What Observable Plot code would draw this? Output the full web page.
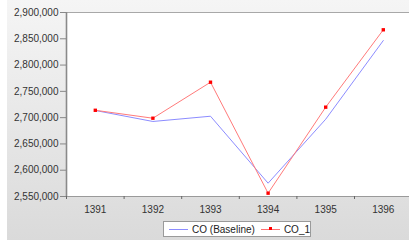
<!DOCTYPE html>
<html><head><meta charset="utf-8">
<script src="https://cdn.jsdelivr.net/npm/d3@7"></script>
<script src="https://cdn.jsdelivr.net/npm/@observablehq/plot@0.6"></script>
<style>
body{margin:0;background:#fff;font-family:"Liberation Sans",Arial,sans-serif;}
#wrap{position:relative;width:409px;height:241px;overflow:hidden;}
#bg{position:absolute;left:7px;top:0;width:402px;height:240px;background:linear-gradient(#f5f5f5,#dadada);}
#chart{position:relative;}
#legend{position:absolute;left:163px;top:221px;width:146px;height:14px;background:#fff;border:1px solid #9a9a9a;font-size:10px;color:#222;display:flex;align-items:center;white-space:nowrap;}
#legend .sw{display:inline-block;position:relative;width:20px;height:1px;margin:0 4px 0 5px;}
#legend .dot{position:absolute;left:8px;top:-1.5px;width:3px;height:3px;background:#f00;}
</style></head>
<body>
<div id="wrap"><div id="bg"></div><div id="chart"></div>
<div id="legend"><span class="sw" style="background:#8c8cff"></span>CO (Baseline)<span class="sw" style="background:#ff7070;margin-left:6px"><span class="dot"></span></span>CO_1</div>
</div>
<script>
const years = [1391, 1392, 1393, 1394, 1395, 1396];
const baseline = [2713600, 2692700, 2702700, 2575300, 2697000, 2846700];
const co1 = [2714000, 2698900, 2767400, 2556300, 2719900, 2867100];
const yTicks = [2550000, 2600000, 2650000, 2700000, 2750000, 2800000, 2850000, 2900000];

const baseData = years.map((y, i) => ({year: y, value: baseline[i]}));
const coData = years.map((y, i) => ({year: y, value: co1[i]}));
const bounds = [years[0] - 0.5, ...years.map(y => y + 0.5)];

const fmt = d3.format(",");
const chart = Plot.plot({
  width: 409,
  height: 218,
  marginLeft: 66,
  marginTop: 12,
  marginBottom: 22,
  marginRight: 0,
  style: {background: "none", fontFamily: "Liberation Sans, Arial, sans-serif", fontSize: "10px", color: "#333", overflow: "visible"},
  x: {domain: [bounds[0], bounds[bounds.length - 1]], range: [66, 411.6]},
  y: {domain: [yTicks[0], yTicks[yTicks.length - 1]]},
  marks: [
    Plot.frame({fill: "white", stroke: "none"}),
    Plot.ruleY([yTicks[yTicks.length - 1]], {stroke: "#a8a8a8"}),
    Plot.ruleY([yTicks[0]], {stroke: "#9a9a9a"}),
    Plot.ruleX([bounds[0]], {stroke: "#8a8a8a", strokeWidth: 1.6}),
    Plot.axisY({ticks: yTicks, tickFormat: fmt, tickSize: 6, tickPadding: 2, stroke: "#888", fill: "#333", label: null}),
    Plot.axisX({ticks: bounds, tickFormat: () => "", tickSize: 3, stroke: "#666", label: null}),
    Plot.axisX({ticks: years, tickFormat: d => String(d), tickSize: 0, tickPadding: 9, fill: "#333", label: null}),
    Plot.line(baseData, {x: "year", y: "value", stroke: "#8c8cff", strokeWidth: 1}),
    Plot.line(coData, {x: "year", y: "value", stroke: "#ff7a7a", strokeWidth: 1}),
    Plot.dot(coData, {x: "year", y: "value", symbol: "square", r: 1.9, fill: "#ff0000", stroke: "none"})
  ]
});
document.getElementById("chart").appendChild(chart);
</script>
</body></html>
